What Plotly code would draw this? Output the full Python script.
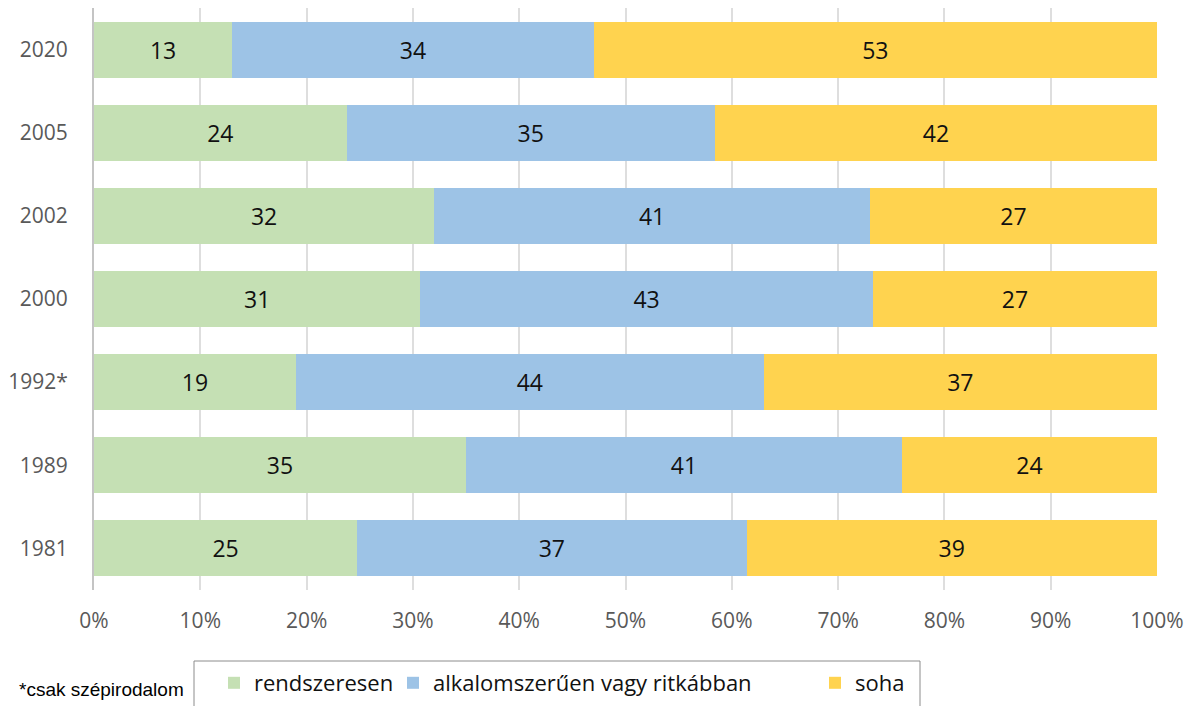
import plotly.graph_objects as go

years = ["1981", "1989", "1992*", "2000", "2002", "2005", "2020"]
rendszeresen = [25, 35, 19, 31, 32, 24, 13]
alkalom = [37, 41, 44, 43, 41, 35, 34]
soha = [39, 24, 37, 27, 27, 42, 53]
series_names = ["rendszeresen", "alkalomszerűen vagy ritkábban", "soha"]
colors = ["#C5E0B4", "#9DC3E6", "#FFD34F"]
x_ticks = list(range(0, 101, 10))
x_tick_labels = [f"{v}%" for v in x_ticks]

# plot area geometry (px)
L, R, T, B = 94, 1157, 8, 590
PW, PH = R - L, B - T


def px_x(p):
    return (p - L) / PW


def px_y(p):
    return (B - p) / PH


legend_ids = ["legend", "legend2", "legend3"]
legend_x_px = [214, 393, 815]

fig = go.Figure()
for name, vals, col, lid in zip(series_names, [rendszeresen, alkalom, soha], colors, legend_ids):
    fig.add_trace(go.Bar(
        y=years, x=vals, name=name, orientation="h",
        marker=dict(color=col, line=dict(width=0)),
        text=[str(v) for v in vals], textposition="inside",
        insidetextanchor="middle",
        textfont=dict(family="Open Sans", size=23, color="#111111"),
        hoverinfo="skip", legend=lid,
    ))

legend_common = dict(
    orientation="h", xanchor="left", yanchor="top",
    y=px_y(662), borderwidth=0, bgcolor="rgba(0,0,0,0)",
    font=dict(family="Open Sans", size=22, color="#111111"),
)

fig.update_layout(
    width=1199, height=706,
    barmode="stack", barnorm="percent", bargap=0.325,
    plot_bgcolor="white", paper_bgcolor="white",
    margin=dict(l=L, r=1199 - R, t=T, b=706 - B, autoexpand=False),
    font=dict(family="Open Sans", size=21, color="#595959"),
    xaxis=dict(
        range=[0, 100], tickmode="array", tickvals=x_ticks, ticktext=x_tick_labels,
        showgrid=True, gridcolor="#DEDEDE", gridwidth=1.5,
        zeroline=False, showline=False,
        ticklabelstandoff=16,
        tickfont=dict(family="Open Sans", size=21, color="#595959"),
    ),
    yaxis=dict(
        showline=True, linecolor="#C4C4C4", linewidth=2,
        showgrid=False, zeroline=False,
        ticklabelstandoff=20,
        tickfont=dict(family="Open Sans", size=21, color="#595959"),
    ),
    legend=dict(x=px_x(legend_x_px[0]), **legend_common),
    legend2=dict(x=px_x(legend_x_px[1]), **legend_common),
    legend3=dict(x=px_x(legend_x_px[2]), **legend_common),
    showlegend=True,
    shapes=[dict(
        type="rect", xref="paper", yref="paper",
        x0=px_x(194), x1=px_x(920), y0=px_y(661), y1=px_y(730),
        line=dict(color="#8C8C8C", width=1), fillcolor="rgba(0,0,0,0)",
        layer="below",
    )],
    annotations=[dict(
        text="*csak szépirodalom", xref="paper", yref="paper",
        x=px_x(17), y=px_y(689), xanchor="left", yanchor="middle",
        showarrow=False, font=dict(family="Liberation Sans, Arial", size=19, color="#000000"),
    )],
)

fig.write_html("out.html", config={"displayModeBar": False},
               post_script="document.body.style.margin='0';")
